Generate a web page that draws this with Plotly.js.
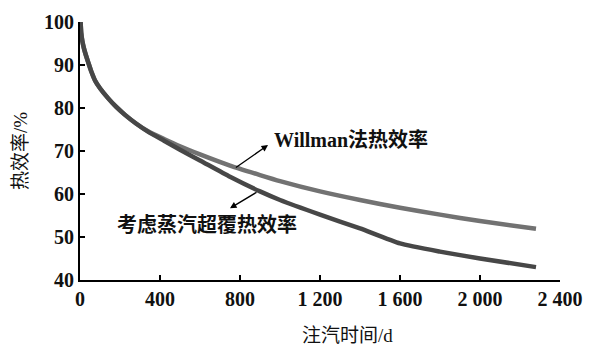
<!DOCTYPE html>
<html>
<head>
<meta charset="utf-8">
<script src="https://cdn.plot.ly/plotly-3.0.1.min.js"></script>
<style>html,body{margin:0;padding:0;background:#fff;}#chart{width:590px;height:345px;}</style>
</head>
<body>
<div id="chart"></div>
<script>
// Data
var days = [3, 6, 12, 20, 30, 42, 58, 75, 100, 140, 180, 225, 280, 340, 420, 500, 600, 750, 900, 1000, 1200, 1400, 1600, 1800, 2000, 2280];
var willmanEff = [100, 97.5, 95.5, 93.8, 92.2, 90.5, 88.3, 86.4, 84.6, 82.3, 80.3, 78.4, 76.4, 74.6, 72.8, 71.1, 69.2, 66.6, 64.4, 63.0, 60.6, 58.6, 56.8, 55.2, 53.7, 51.9];
var overlayEff = [100, 97.5, 95.5, 93.8, 92.2, 90.5, 88.3, 86.4, 84.6, 82.3, 80.3, 78.4, 76.4, 74.5, 72.4, 70.3, 67.8, 64.0, 60.6, 58.6, 55.2, 52.0, 48.5, 46.6, 45.0, 43.0];
var xTickVals = [0, 400, 800, 1200, 1600, 2000, 2400];
var xTickText = ['0', '400', '800', '1 200', '1 600', '2 000', '2 400'];
var yTickVals = [40, 50, 60, 70, 80, 90, 100];
var labelWillman = 'Willman法热效率';
var labelOverlay = '考虑蒸汽超覆热效率';
var xTitle = '注汽时间/d';
var yTitle = '热效率/%';

var serif = '"Liberation Serif", "Noto Sans CJK SC", serif';

var traces = [
  {x: days, y: willmanEff, mode: 'lines', line: {color: '#727272', width: 4.5, shape: 'spline', smoothing: 0.5}, hoverinfo: 'skip'},
  {x: days, y: overlayEff, mode: 'lines', line: {color: '#474747', width: 4.5, shape: 'spline', smoothing: 0.5}, hoverinfo: 'skip'}
];

var axisCommon = {
  showline: true, linecolor: '#000', linewidth: 2,
  ticks: 'inside', ticklen: 5, tickwidth: 1.5, tickcolor: '#000',
  showgrid: false, zeroline: false,
  tickfont: {family: serif, size: 20, color: '#111', weight: 'bold'}
};

var layout = {
  width: 590, height: 345,
  margin: {l: 80, r: 30, t: 22, b: 65},
  paper_bgcolor: '#fff', plot_bgcolor: '#fff',
  showlegend: false,
  xaxis: Object.assign({}, axisCommon, {range: [0, 2400], tickmode: 'array', tickvals: xTickVals, ticktext: xTickText}),
  yaxis: Object.assign({}, axisCommon, {range: [40, 100], tickmode: 'array', tickvals: yTickVals}),
  annotations: [
    {xref: 'x', yref: 'y', axref: 'x', ayref: 'y', x: 940, y: 71.4, ax: 772, ay: 65.9, text: '', showarrow: true, arrowhead: 2, arrowsize: 1, arrowwidth: 1.3, arrowcolor: '#000', standoff: 0, startstandoff: 0},
    {xref: 'x', yref: 'y', axref: 'x', ayref: 'y', x: 750, y: 56.7, ax: 890, ay: 60.6, text: '', showarrow: true, arrowhead: 2, arrowsize: 1, arrowwidth: 1.3, arrowcolor: '#000', standoff: 0, startstandoff: 0},
    {xref: 'x', yref: 'y', x: 1355, y: 72.6, text: '<b>' + labelWillman + '</b>', showarrow: false, font: {family: serif, size: 20, color: '#111'}, xanchor: 'center', yanchor: 'middle'},
    {xref: 'x', yref: 'y', x: 635, y: 52.8, text: '<b>' + labelOverlay + '</b>', showarrow: false, font: {family: serif, size: 20, color: '#111'}, xanchor: 'center', yanchor: 'middle'},
    {xref: 'paper', yref: 'paper', x: (347 - 80) / 480, y: -(335 - 280) / 258, text: xTitle, showarrow: false, font: {family: serif, size: 19, color: '#111'}, xanchor: 'center', yanchor: 'middle'},
    {xref: 'paper', yref: 'paper', x: -(80 - 20) / 480, y: 0.5, text: yTitle, textangle: -90, showarrow: false, font: {family: serif, size: 19, color: '#111'}, xanchor: 'center', yanchor: 'middle'}
  ]
};

Plotly.newPlot('chart', traces, layout, {staticPlot: true, displayModeBar: false});
</script>
</body>
</html>
